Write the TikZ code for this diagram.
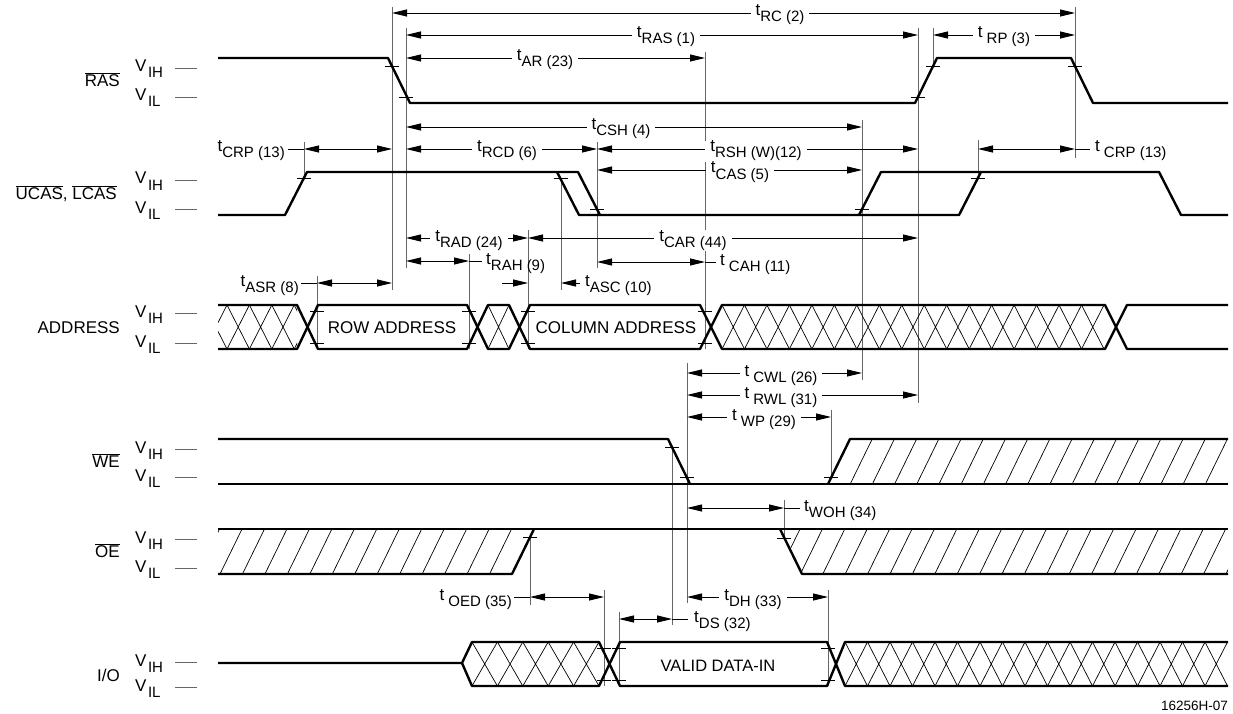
\documentclass[tikz,border=0pt]{standalone}
\usepackage{fontspec}
\setmainfont{Liberation Sans}
\usetikzlibrary{arrows.meta}
\newcommand{\subtx}[1]{\raisebox{-6pt}{\fontsize{15pt}{15pt}\selectfont #1}}
\newcommand{\tA}[1]{t\subtx{#1}}
\newcommand{\tB}[1]{t\hspace{4pt}\subtx{#1}}
\newcommand{\vlv}[1]{V\hspace{1.5pt}\subtx{#1}}
\tikzset{
  sig/.style={line width=2.4pt, line join=round},
  vln/.style={line width=0.8pt, draw=black!60},
  vdsh/.style={line width=0.8pt, draw=black!60},
  dimln/.style={line width=0.9pt},
  both/.style={dimln, {Triangle[length=15pt,width=7pt]}-{Triangle[length=15pt,width=7pt]}},
  toR/.style={dimln, -{Triangle[length=15pt,width=7pt]}},
  toL/.style={dimln, {Triangle[length=15pt,width=7pt]}-},
  lab/.style={fill=white, inner xsep=5pt, inner ysep=0.5pt, anchor=base, font=\fontsize{17pt}{17pt}\selectfont},
  slabW/.style={inner sep=0pt, anchor=base west, font=\fontsize{17pt}{17pt}\selectfont},
  slabE/.style={inner sep=0pt, anchor=base east, font=\fontsize{17pt}{17pt}\selectfont},
  rowlab/.style={inner sep=0pt, anchor=base east, font=\fontsize{17pt}{17pt}\selectfont},
  buslab/.style={inner sep=0pt, anchor=base, font=\fontsize{17pt}{17pt}\selectfont},
  vlab/.style={inner sep=0pt, anchor=base west, font=\fontsize{17pt}{17pt}\selectfont},
  hat/.style={line width=0.7pt},
  tk/.style={line width=0.8pt},
}
\begin{document}
\begin{tikzpicture}[x=1pt,y=-1pt]
\useasboundingbox (0,0) rectangle (1233,714);

% ---------- left labels ----------
\node[rowlab] at (120,86.5) {$\overline{\mbox{RAS}}$};
\node[rowlab] at (117,199.5) {$\overline{\mbox{UCAS}}$, $\overline{\mbox{LCAS}}$};
\node[rowlab] at (120,333) {ADDRESS};
\node[rowlab] at (120,467.5) {$\overline{\mbox{WE}}$};
\node[rowlab] at (120,557.5) {$\overline{\mbox{OE}}$};
\node[rowlab] at (120,681) {I/O};
\foreach \h/\l in {68/97, 180/209, 313/343, 449/477, 539/568, 662/687} {
  \node[vlab] at (135,\h+4) {\vlv{IH}};
  \node[vlab] at (135,\l+4) {\vlv{IL}};
  \draw[vdsh] (175,\h) -- (197,\h);
  \draw[vdsh] (175,\l) -- (197,\l);
}

% ---------- vertical reference lines ----------
\foreach \x/\a/\b in {392/7/290, 406/28/268, 304/142/178, 317/276/349, 469/254/349,
  528/230/349, 561/178/290, 597/142/268, 705/52/349, 862/120/380, 918/28/403,
  933/28/66, 1075/7/158, 978/140/178, 672/447/625, 687/363/603, 831/410/477,
  784/500/538, 530/537/605, 604/590/686, 619/612/686, 828/590/686}
  {\draw[vln] (\x,\a) -- (\x,\b);}

% ---------- hatching ----------
\begin{scope}
  \clip (218,305) rectangle (297,349);
  \foreach \k in {-1,...,3}
    {\draw[hat] ({227+22.4*\k},305) -- ({249.4+22.4*\k},349)
               ({227+22.4*\k},349) -- ({249.4+22.4*\k},305);}
\end{scope}
\draw[hat] (488,305) -- (509,349) (488,349) -- (509,305);
\begin{scope}
  \clip (722,305) rectangle (1105,349);
  \foreach \k in {0,...,16}
    {\draw[hat] ({722+22.47*\k},305) -- ({744.47+22.47*\k},349)
               ({722+22.47*\k},349) -- ({744.47+22.47*\k},305);}
\end{scope}
\begin{scope}
  \clip (472,642) rectangle (599,686);
  \foreach \k in {0,...,4}
    {\draw[hat] ({472+25.4*\k},642) -- ({497.4+25.4*\k},686)
               ({472+25.4*\k},686) -- ({497.4+25.4*\k},642);}
\end{scope}
\begin{scope}
  \clip (845,642) rectangle (1228,686);
  \foreach \k in {0,...,16}
    {\draw[hat] ({845+22.5*\k},642) -- ({867.5+22.5*\k},686)
               ({845+22.5*\k},686) -- ({867.5+22.5*\k},642);}
\end{scope}
\begin{scope}
  \clip (850,439) -- (1228,439) -- (1228,484) -- (828,484) -- cycle;
  \foreach \k in {1,...,18}
    {\draw[hat] ({828+22.2*\k},484) -- ({850+22.2*\k},439);}
\end{scope}
\begin{scope}
  \clip (218,529) -- (534,529) -- (512,574) -- (218,574) -- cycle;
  \foreach \k in {1,...,14}
    {\draw[hat] ({512-22.46*\k},574) -- ({534-22.46*\k},529);}
\end{scope}
\begin{scope}
  \clip (780,529) -- (1228,529) -- (1228,574) -- (802,574) -- cycle;
  \foreach \k in {0,...,20}
    {\draw[hat] ({778+22.4*\k},574) -- ({800+22.4*\k},529);}
\end{scope}

% ---------- signals ----------
% RAS
\draw[sig] (218,58) -- (388,58) -- (410,103) -- (915,103) -- (937,58) -- (1071,58) -- (1093,103) -- (1228,103);
% CAS
\draw[sig] (218,215) -- (285,215) -- (307,172) -- (578,172) -- (600,215) -- (959,215) -- (981,172) -- (1159,172) -- (1181,215) -- (1228,215);
\draw[sig] (557,172) -- (579,215) -- (600,215);
\draw[sig] (859,215) -- (881,172) -- (981,172);
% ADDRESS
\draw[sig] (218,305) -- (297,305) -- (318,349) -- (467,349) -- (488,305) -- (509,305) -- (530,349) -- (700,349) -- (722,305) -- (1105,305) -- (1127,349) -- (1228,349);
\draw[sig] (218,349) -- (297,349) -- (318,305) -- (467,305) -- (488,349) -- (509,349) -- (530,305) -- (700,305) -- (722,349) -- (1105,349) -- (1127,305) -- (1228,305);
% WE
\draw[sig] (218,439) -- (668,439) -- (690,484);
\draw[sig] (218,484) -- (1228,484);
\draw[sig] (828,484) -- (850,439) -- (1228,439);
% OE
\draw[sig] (218,529) -- (1228,529);
\draw[sig] (218,574) -- (512,574) -- (534,529);
\draw[sig] (780,529) -- (802,574) -- (1228,574);
% I/O
\draw[sig] (218,663) -- (462,663) -- (472,642) -- (599,642) -- (620,686) -- (827,686) -- (845,642) -- (1228,642);
\draw[sig] (462,663) -- (472,686) -- (599,686) -- (620,642) -- (827,642) -- (845,686) -- (1228,686);

% ---------- ticks ----------
\foreach \x/\y in {392/66, 406/97, 918/97, 933/66, 1075/66,
  304/178, 561/178, 597/209, 862/209, 978/178,
  317/311, 317/343, 469/311, 469/343, 528/311, 528/343, 705/311, 705/343,
  672/447, 687/477, 831/477, 530/537, 784/538,
  604/648, 604/680, 619/648, 619/680, 828/648, 828/680}
  {\draw[tk] (\x,\y) +(-7,0) -- +(7,0);}

% ---------- bus texts ----------
\node[buslab] at (392,333) {ROW ADDRESS};
\node[buslab] at (616,333) {COLUMN ADDRESS};
\node[buslab, font=\fontsize{16.5pt}{16.5pt}\selectfont] at (718,671) {VALID DATA-IN};

% ---------- dimensions ----------
\draw[both] (392,13) -- (1075,13);
\node[lab] at (780,16) {\tA{RC (2)}};
\draw[both] (406,35) -- (918,35);
\node[lab] at (666,38) {\tA{RAS (1)}};
\draw[both] (933,35) -- (1075,35);
\node[lab] at (1004,38) {\tB{RP (3)}};
\draw[both] (406,58) -- (705,58);
\node[lab] at (545,61) {\tA{AR (23)}};
\draw[both] (406,127) -- (862,127);
\node[lab] at (621,130) {\tA{CSH (4)}};
\draw[dimln] (288,149) -- (304,149);
\draw[both] (304,149) -- (392,149);
\node[slabE] at (285,152) {\tA{CRP (13)}};
\draw[both] (406,149) -- (597,149);
\node[lab] at (507,152) {\tA{RCD (6)}};
\draw[both] (597,149) -- (918,149);
\node[lab] at (756,152) {\tA{RSH (W)(12)}};
\draw[both] (597,170) -- (862,170);
\node[lab] at (740,173) {\tA{CAS (5)}};
\draw[both] (978,149) -- (1075,149);
\draw[dimln] (1075,149) -- (1090,149);
\node[slabW] at (1095,152) {\tB{CRP (13)}};
\draw[both] (406,238) -- (528,238);
\node[lab] at (469,241) {\tA{RAD (24)}};
\draw[both] (528,238) -- (918,238);
\node[lab] at (693,241) {\tA{CAR (44)}};
\draw[both] (406,261) -- (469,261);
\draw[dimln] (469,261) -- (482,261);
\node[slabW] at (486,264) {\tA{RAH (9)}};
\draw[both] (597,262) -- (705,262);
\draw[dimln] (705,262) -- (716,262);
\node[slabW] at (720,265) {\tB{CAH (11)}};
\draw[dimln] (301,283) -- (317,283);
\draw[both] (317,283) -- (392,283);
\node[slabE] at (299,286) {\tA{ASR (8)}};
\draw[toR] (502,283) -- (528,283);
\draw[toL] (561,283) -- (580,283);
\node[slabW] at (585,286) {\tA{ASC (10)}};
\draw[both] (687,373) -- (862,373);
\node[lab] at (781,376) {\tB{CWL (26)}};
\draw[both] (687,395) -- (918,395);
\node[lab] at (781,398) {\tB{RWL (31)}};
\draw[both] (687,417) -- (831,417);
\node[lab] at (764,420) {\tB{WP (29)}};
\draw[both] (687,508) -- (784,508);
\draw[dimln] (784,508) -- (800,508);
\node[slabW] at (804,511) {\tA{WOH (34)}};
\draw[dimln] (514,597) -- (530,597);
\draw[both] (530,597) -- (604,597);
\node[slabE] at (512,600) {\tB{OED (35)}};
\draw[both] (687,597) -- (828,597);
\node[lab] at (753,600) {\tA{DH (33)}};
\draw[both] (619,619) -- (672,619);
\draw[dimln] (672,619) -- (688,619);
\node[slabW] at (694,622) {\tA{DS (32)}};

\node[inner sep=0pt, anchor=base east, font=\fontsize{13.5pt}{13.5pt}\selectfont] at (1228,710) {16256H-07};
\end{tikzpicture}
\end{document}
